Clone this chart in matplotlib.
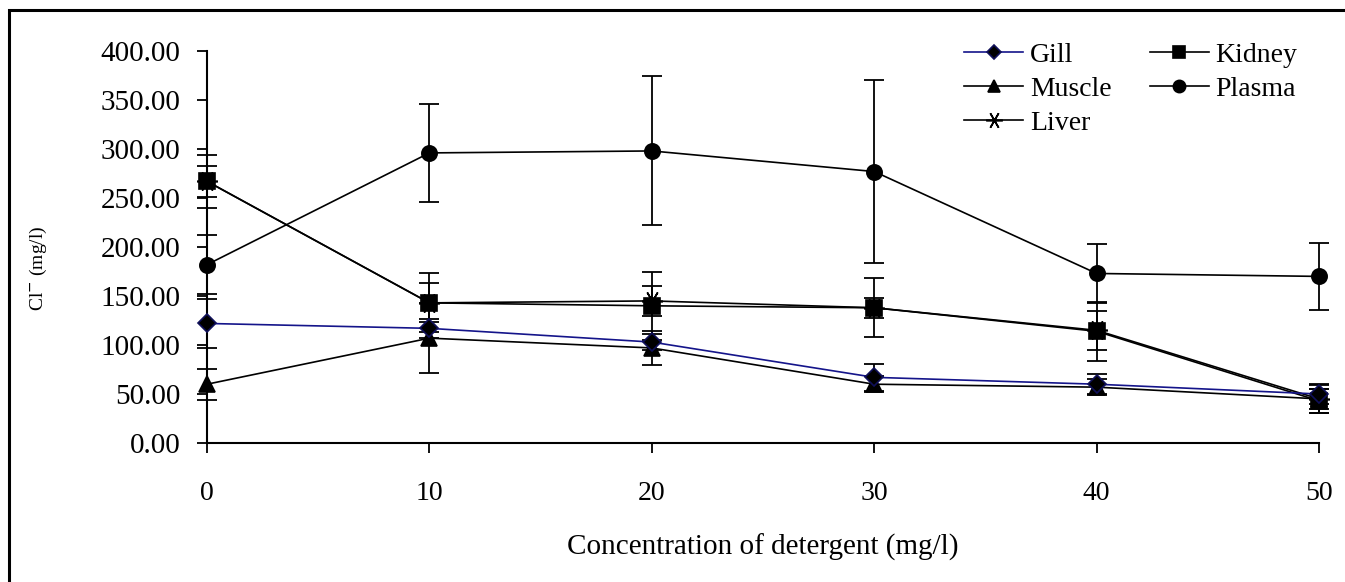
import matplotlib.pyplot as plt
import matplotlib.patches as mpatches
from matplotlib.ticker import FormatStrFormatter

plt.rcParams['font.family'] = ['Liberation Serif', 'DejaVu Serif']

# Data
conc = [0, 10, 20, 30, 40, 50]

gill = [122, 117, 103, 67, 60, 50]
gill_err = [25, 10, 8, 14, 10, 10]
kidney = [267, 143, 140, 138, 114, 43]
kidney_err = [16, 30, 35, 30, 30, 12]
muscle = [60, 107, 97, 60, 57, 45]
muscle_err = [16, 36, 17, 8, 8, 14]
plasma = [182, 296, 298, 277, 173, 170]
plasma_err = [30, 50, 76, 93, 30, 34]
liver = [267, 143, 145, 138, 115, 45]
liver_err = [27, 20, 15, 10, 20, 10]

y_ticks = [0, 50, 100, 150, 200, 250, 300, 350, 400]

fig = plt.figure(figsize=(13.45, 5.82), dpi=100)
ax = fig.add_axes([0.1539, 0.2388, 0.8268, 0.6736])

# outer frame (top and left edges visible, rest cropped)
frame = mpatches.Rectangle((9 / 1345, -0.05), 1.1, 1 - 10 / 582 + 0.05,
                           transform=fig.transFigure, fill=False,
                           edgecolor='black', linewidth=2.2, clip_on=False)
fig.patches.append(frame)

series = [
    ("Gill", gill, gill_err, 'D', '#14148a', 9),
    ("Muscle", muscle, muscle_err, '^', 'black', 11),
    ("Liver", liver, liver_err, (6, 2, 90), 'black', 15),
    ("Kidney", kidney, kidney_err, 's', 'black', 11),
    ("Plasma", plasma, plasma_err, 'o', 'black', 11),
]

draw_order = ["Liver", "Plasma", "Kidney", "Muscle", "Gill"]
handles = {}
for name, vals, err, mk, col, ms in series:
    z = 3 + draw_order.index(name)
    eb = ax.errorbar(conc, vals, yerr=err, fmt='none', ecolor='black',
                     elinewidth=1.3, capsize=7, capthick=1.3, zorder=z)
    for part in eb.lines[1] + eb.lines[2]:
        part.set_clip_on(False)
    line, = ax.plot(conc, vals, color=col, linewidth=1.2, marker=mk,
                    markersize=ms, markerfacecolor='black',
                    markeredgecolor='black' if mk != 'D' else '#10105a',
                    markeredgewidth=1.2, clip_on=False, zorder=z)
    handles[name] = line

ax.set_xlim(0, 50)
ax.set_ylim(0, 400)
ax.set_xticks(conc)
ax.set_yticks(y_ticks)
ax.yaxis.set_major_formatter(FormatStrFormatter('%.2f'))
ax.tick_params(axis='both', labelsize=20, direction='out', length=7.2,
               width=1.3, colors='black')
ax.tick_params(axis='y', labelsize=21)
ax.tick_params(axis='x', pad=20)
ax.tick_params(axis='y', pad=12)

for side in ['top', 'right']:
    ax.spines[side].set_visible(False)
for side in ['left', 'bottom']:
    ax.spines[side].set_linewidth(1.5)

ax.set_xlabel("Concentration of detergent (mg/l)", fontsize=21, labelpad=20)
ax.set_ylabel("Cl$^{-}$ (mg/l)", fontsize=14)
ax.yaxis.set_label_coords(-0.142, 0.446)

order = ["Gill", "Muscle", "Liver", "Kidney", "Plasma"]
ax.legend([handles[n] for n in order], order, ncol=2, frameon=False,
          fontsize=20, loc='upper right', bbox_to_anchor=(1.003, 1.085),
          handlelength=2.1, handletextpad=0.25, columnspacing=1.4,
          labelspacing=0.3, markerscale=0.8)

fig.savefig("out.png", dpi=100)
